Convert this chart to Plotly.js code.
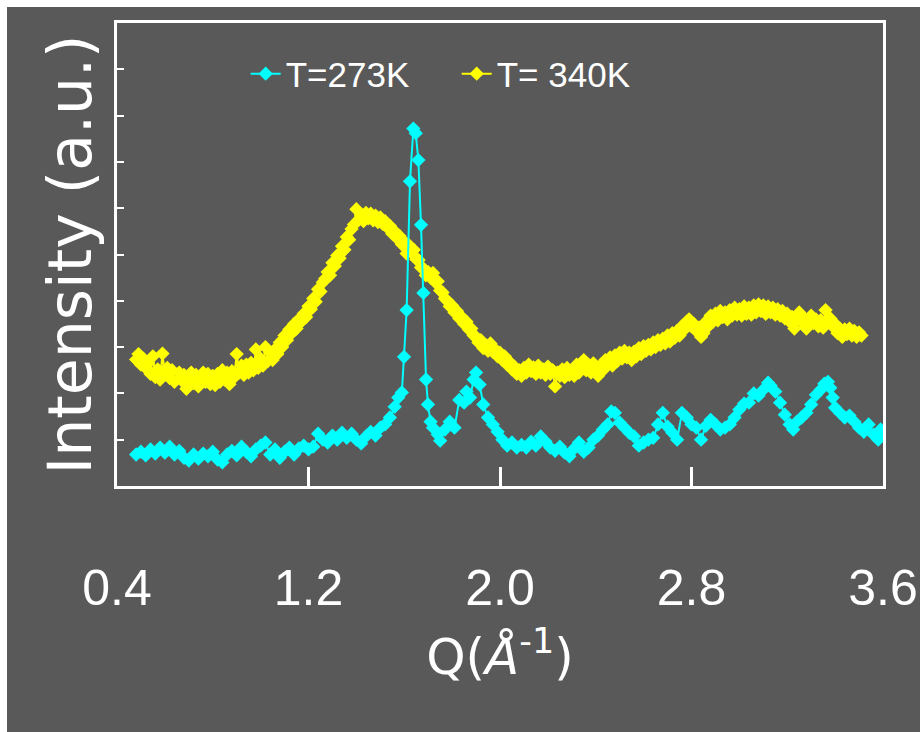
<!DOCTYPE html>
<html><head><meta charset="utf-8">
<script src="https://cdn.plot.ly/plotly-3.0.1.min.js"></script>
<style>html,body{margin:0;padding:0;background:#fff;overflow:hidden;} #plot{position:absolute;left:7px;top:7px;width:913px;height:725px;}</style>
</head><body><div id="plot"></div>
<script>
const tickVals = [0.4, 1.2, 2.0, 2.8, 3.6];
const tickText = ['0.4', '1.2', '2.0', '2.8', '3.6'];
const seriesNames = ['T=273K', 'T= 340K'];

const q273 = [0.48,0.50,0.52,0.54,0.56,0.58,0.60,0.62,0.64,0.66,0.68,0.70,0.72,0.74,0.76,0.78,0.80,0.82,0.84,0.86,0.88,0.90,0.92,0.94,0.96,0.98,1.00,1.02,1.04,1.06,1.08,1.10,1.12,1.14,1.16,1.18,1.20,1.22,1.24,1.26,1.28,1.30,1.32,1.34,1.36,1.38,1.40,1.42,1.44,1.46,1.48,1.50,1.52,1.54,1.56,1.575,1.59,1.599,1.61,1.624,1.638,1.648,1.659,1.67,1.68,1.691,1.699,1.71,1.72,1.74,1.75,1.77,1.79,1.81,1.83,1.85,1.86,1.875,1.89,1.90,1.915,1.93,1.95,1.97,1.99,2.01,2.03,2.05,2.07,2.09,2.11,2.13,2.15,2.17,2.19,2.21,2.23,2.25,2.27,2.29,2.31,2.33,2.35,2.37,2.39,2.41,2.43,2.45,2.465,2.48,2.50,2.52,2.54,2.56,2.58,2.60,2.62,2.64,2.66,2.68,2.70,2.72,2.74,2.76,2.78,2.80,2.82,2.84,2.86,2.88,2.90,2.92,2.94,2.96,2.98,3.00,3.02,3.04,3.06,3.08,3.10,3.12,3.13,3.15,3.17,3.19,3.21,3.225,3.24,3.26,3.28,3.30,3.32,3.34,3.355,3.37,3.38,3.39,3.40,3.42,3.44,3.46,3.48,3.50,3.52,3.54,3.56,3.58,3.59,3.60];
const i273 = [0.68,0.74,0.66,0.79,0.70,0.83,0.72,0.85,0.68,0.76,0.61,0.55,0.68,0.59,0.70,0.64,0.74,0.57,0.51,0.68,0.76,0.66,0.85,0.74,0.64,0.79,0.87,0.94,0.68,0.79,0.61,0.74,0.83,0.68,0.81,0.87,0.79,0.85,1.13,1.00,0.94,1.09,1.00,1.15,1.04,1.13,1.00,0.92,1.07,1.17,1.09,1.26,1.33,1.48,1.71,1.91,2.02,2.79,3.80,6.58,7.72,7.62,7.04,5.64,4.17,2.30,1.76,1.39,1.26,1.11,0.98,1.22,1.39,1.26,1.86,1.80,2.04,1.91,2.30,2.45,2.19,1.76,1.48,1.33,1.17,1.00,0.87,0.94,0.83,0.89,0.83,0.96,0.87,1.07,0.96,0.83,0.76,0.85,0.72,0.64,0.81,0.94,0.74,0.83,1.00,1.09,1.22,1.33,1.61,1.58,1.37,1.26,1.15,1.07,0.87,0.94,1.00,1.04,1.33,1.58,1.28,1.15,1.00,1.58,1.48,1.33,1.26,1.00,1.30,1.43,1.33,1.22,1.26,1.33,1.48,1.65,1.78,1.80,2.00,1.95,2.08,2.23,2.17,2.04,1.80,1.54,1.33,1.22,1.39,1.48,1.58,1.76,1.97,2.08,2.21,2.25,2.12,1.91,1.69,1.58,1.48,1.52,1.39,1.26,1.17,1.33,1.11,1.00,1.22,1.15];

const q340 = [0.48,0.49,0.50,0.51,0.52,0.53,0.54,0.55,0.56,0.57,0.58,0.59,0.60,0.61,0.62,0.63,0.64,0.66,0.67,0.68,0.69,0.70,0.71,0.72,0.73,0.74,0.75,0.76,0.77,0.78,0.79,0.80,0.81,0.82,0.83,0.84,0.85,0.86,0.87,0.88,0.89,0.90,0.91,0.92,0.93,0.94,0.95,0.96,0.97,0.98,0.99,1.00,1.01,1.02,1.03,1.04,1.05,1.06,1.07,1.08,1.09,1.10,1.11,1.12,1.13,1.14,1.15,1.16,1.17,1.18,1.19,1.20,1.21,1.22,1.23,1.24,1.25,1.26,1.27,1.28,1.29,1.30,1.31,1.32,1.33,1.34,1.35,1.36,1.37,1.38,1.39,1.40,1.41,1.42,1.43,1.44,1.45,1.46,1.47,1.48,1.49,1.50,1.51,1.52,1.53,1.54,1.55,1.56,1.57,1.58,1.59,1.60,1.61,1.62,1.63,1.64,1.65,1.66,1.67,1.68,1.69,1.70,1.71,1.72,1.73,1.74,1.75,1.76,1.77,1.78,1.79,1.80,1.81,1.82,1.83,1.84,1.85,1.86,1.87,1.88,1.89,1.90,1.91,1.92,1.93,1.94,1.95,1.96,1.97,1.98,1.99,2.00,2.01,2.02,2.03,2.04,2.05,2.06,2.07,2.08,2.09,2.10,2.11,2.12,2.13,2.14,2.15,2.16,2.17,2.18,2.19,2.20,2.21,2.22,2.23,2.24,2.25,2.26,2.27,2.28,2.29,2.30,2.31,2.32,2.33,2.34,2.35,2.36,2.37,2.38,2.39,2.40,2.41,2.42,2.43,2.44,2.45,2.46,2.47,2.48,2.49,2.50,2.51,2.52,2.53,2.54,2.55,2.56,2.57,2.58,2.59,2.60,2.61,2.62,2.63,2.64,2.65,2.66,2.67,2.68,2.69,2.70,2.71,2.72,2.73,2.74,2.75,2.76,2.77,2.78,2.79,2.80,2.81,2.82,2.83,2.84,2.85,2.86,2.87,2.88,2.89,2.90,2.91,2.92,2.93,2.94,2.95,2.96,2.97,2.98,2.99,3.00,3.01,3.02,3.03,3.04,3.05,3.06,3.07,3.08,3.09,3.10,3.11,3.12,3.13,3.14,3.15,3.16,3.17,3.18,3.19,3.20,3.21,3.22,3.23,3.24,3.25,3.26,3.27,3.28,3.29,3.30,3.31,3.32,3.33,3.34,3.35,3.36,3.37,3.38,3.39,3.40,3.41,3.42,3.43,3.44,3.45,3.46,3.47,3.48,3.49,3.50,3.51];
const i340 = [2.73,2.85,2.62,2.75,2.55,2.66,2.42,2.80,2.35,2.52,2.30,2.86,2.40,2.55,2.33,2.50,2.25,2.45,2.28,2.40,2.10,2.30,2.45,2.22,2.40,2.15,2.35,2.45,2.25,2.42,2.20,2.38,2.18,2.42,2.25,2.50,2.30,2.45,2.20,2.48,2.35,2.85,2.45,2.60,2.40,2.62,2.45,2.66,2.50,2.95,2.55,2.75,2.60,3.00,2.70,2.88,2.72,2.95,2.85,3.10,3.00,3.25,3.15,3.38,3.30,3.50,3.40,3.60,3.55,3.72,3.65,3.88,3.82,4.05,3.98,4.25,4.20,4.40,4.48,4.62,4.55,4.82,4.75,4.98,4.92,5.18,5.10,5.38,5.32,5.55,5.65,5.98,5.75,5.85,5.72,5.90,5.78,5.88,5.74,5.84,5.70,5.80,5.66,5.72,5.58,5.62,5.45,5.50,5.35,5.40,5.22,5.28,5.02,5.20,5.05,5.10,4.90,4.88,4.72,4.70,4.55,4.62,4.50,4.60,4.40,4.42,4.22,4.18,4.05,4.00,3.88,3.90,3.75,3.78,3.62,3.65,3.50,3.55,3.38,3.40,3.25,3.22,3.10,3.15,2.98,3.05,2.92,3.08,2.90,2.95,2.80,2.88,2.72,2.80,2.62,2.68,2.52,2.58,2.42,2.50,2.38,2.55,2.45,2.62,2.48,2.56,2.42,2.60,2.45,2.52,2.40,2.58,2.42,2.50,2.15,2.45,2.38,2.52,2.35,2.55,2.40,2.50,2.38,2.62,2.45,2.60,2.72,2.50,2.62,2.45,2.65,2.52,2.38,2.60,2.50,2.72,2.62,2.78,2.60,2.82,2.70,2.88,2.75,2.92,2.78,2.88,2.72,2.90,2.80,2.98,2.85,3.02,2.92,3.05,2.95,3.10,3.00,3.15,3.05,3.18,3.08,3.25,3.12,3.30,3.20,3.35,3.25,3.45,3.38,3.55,3.60,3.45,3.50,3.35,3.42,3.22,3.30,3.55,3.45,3.68,3.55,3.72,3.58,3.78,3.65,3.75,3.60,3.80,3.68,3.85,3.70,3.82,3.68,3.88,3.72,3.85,3.70,3.90,3.75,3.92,3.78,3.90,3.72,3.88,3.75,3.85,3.70,3.82,3.68,3.78,3.62,3.72,3.55,3.65,3.40,3.60,3.75,3.55,3.62,3.40,3.58,3.68,3.52,3.60,3.45,3.58,3.42,3.80,3.55,3.62,3.45,3.50,3.30,3.40,3.22,3.38,3.28,3.40,3.25,3.35,3.22,3.32,3.25];

const hFont = '"Liberation Sans", Arial, sans-serif';

const traces = [
  {x: q340, y: i340, name: seriesNames[1], type: 'scatter', mode: 'lines+markers', legendrank: 2,
   line: {color: '#FFFF00', width: 2}, marker: {symbol: 'diamond', size: 11, color: '#FFFF00'}},
  {x: q273, y: i273, name: seriesNames[0], type: 'scatter', mode: 'lines+markers', legendrank: 1,
   line: {color: '#00FFFF', width: 2}, marker: {symbol: 'diamond', size: 11, color: '#00FFFF'}}
];

const layout = {
  width: 913, height: 725,
  paper_bgcolor: '#595959', plot_bgcolor: '#595959',
  margin: {l: 110, r: 37, t: 15.5, b: 245.5},
  showlegend: true,
  legend: {orientation: 'h', x: 0.168, xanchor: 'left', y: 0.89, yanchor: 'middle',
           font: {family: hFont, size: 35, color: '#ffffff'}, bgcolor: 'rgba(0,0,0,0)',
           entrywidth: 166, entrywidthmode: 'pixels', itemwidth: 30},
  xaxis: {range: [0.4, 3.6], tickvals: tickVals, ticktext: tickText, ticks: 'inside', ticklen: 19, tickwidth: 3,
          tickcolor: '#ffffff', showline: true, mirror: true, linecolor: '#ffffff', linewidth: 3,
          showgrid: false, zeroline: false, ticklabelstandoff: 56, ticklabeloverflow: 'allow',
          tickfont: {family: hFont, size: 50, color: '#ffffff'},
          title: {text: 'Q(<i>Å</i><sup>-1</sup>)', font: {family: 'DejaVu Sans', size: 50, color: '#ffffff'}, standoff: 24}},
  yaxis: {range: [0, 10], dtick: 1, tick0: 0, ticks: 'inside', ticklen: 7, tickwidth: 2, tickcolor: '#ffffff',
          showticklabels: false, showline: true, mirror: true, linecolor: '#ffffff', linewidth: 3,
          showgrid: false, zeroline: false,
          title: {text: 'Intensity (a.u.)', font: {family: 'DejaVu Sans', size: 60, color: '#ffffff'}, standoff: 4}}
};

Plotly.newPlot('plot', traces, layout, {displayModeBar: false, staticPlot: true});
</script>
</body></html>
